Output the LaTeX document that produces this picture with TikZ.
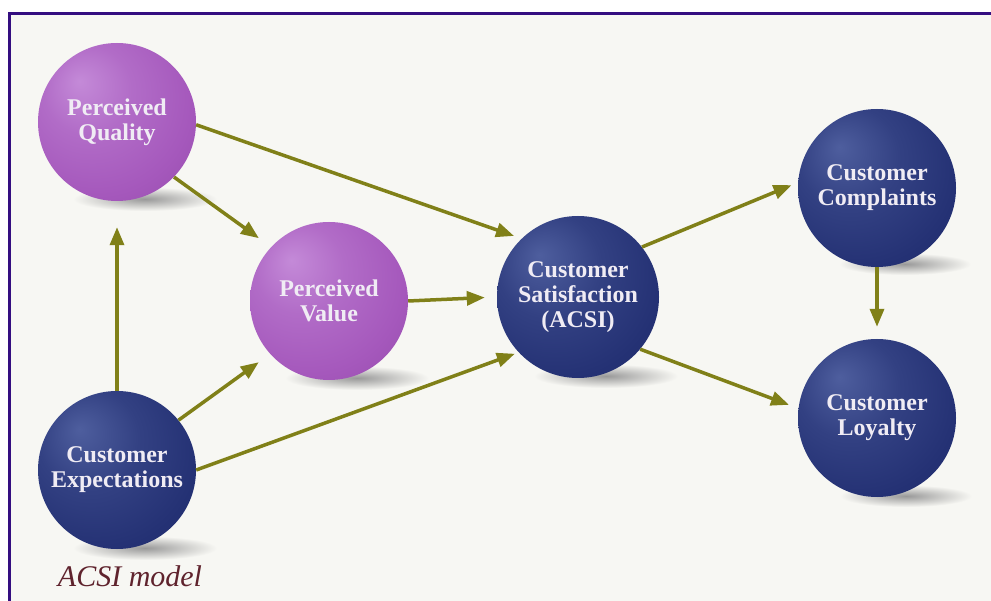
\documentclass[tikz,border=0pt]{standalone}
\usepackage{fontspec}
\setmainfont{Liberation Serif}
\usetikzlibrary{arrows.meta}
\definecolor{bg}{RGB}{247,247,243}
\definecolor{framec}{RGB}{52,14,128}
\definecolor{arrowc}{RGB}{128,128,24}
\definecolor{pHi}{RGB}{196,138,216}
\definecolor{pMid}{RGB}{165,88,188}
\definecolor{pLo}{RGB}{108,42,128}
\definecolor{nHi}{RGB}{78,94,158}
\definecolor{nMid}{RGB}{36,49,116}
\definecolor{nLo}{RGB}{14,20,60}
\definecolor{txt}{RGB}{240,236,244}
\definecolor{capc}{RGB}{95,35,45}
\pgfdeclareradialshading{purpleball}{\pgfpoint{-12bp}{13bp}}{color(0bp)=(pHi); color(14bp)=(pMid!60!pHi); color(30bp)=(pMid); color(44bp)=(pMid!70!pLo); color(54bp)=(pLo); color(64bp)=(pLo)}
\pgfdeclareradialshading{navyball}{\pgfpoint{-12bp}{13bp}}{color(0bp)=(nHi); color(16bp)=(nMid!65!nHi); color(32bp)=(nMid); color(46bp)=(nMid!70!nLo); color(56bp)=(nLo); color(64bp)=(nLo)}
\tikzset{
  ball/.style={circle, minimum size=158pt, inner sep=0pt, text=txt,
    font=\bfseries\fontsize{24}{25}\selectfont, align=center},
  pball/.style={ball, shading=purpleball},
  nball/.style={ball, shading=navyball},
  arr/.style={draw=arrowc, line width=3.5pt, -{Triangle[length=18pt,width=14pt]}},
  shadowe/.style={inner color=black!40, outer color=bg}
}
\begin{document}
\begin{tikzpicture}[x=1pt,y=-1pt]
\useasboundingbox (0,0) rectangle (991,601);
\fill[white] (0,0) rectangle (991,601);
\fill[bg] (9,13) rectangle (991,601);
\draw[framec, line width=3pt] (9.5,601) -- (9.5,13.5) -- (991,13.5);
% shadows
\shade[shadowe] (145,199) ellipse (72pt and 12pt);
\shade[shadowe] (357,378) ellipse (72pt and 12pt);
\shade[shadowe] (606,376) ellipse (72pt and 12pt);
\shade[shadowe] (905,264) ellipse (66pt and 11pt);
\shade[shadowe] (906,496) ellipse (66pt and 11pt);
\shade[shadowe] (145,548) ellipse (72pt and 12pt);
% balls
\node[pball] (pq) at (117,122) {Perceived\\Quality};
\node[pball] (pv) at (329,301) {Perceived\\Value};
\node[nball, minimum size=162pt] (cs) at (578,297) {Customer\\Satisfaction\\(ACSI)};
\node[nball] (cc) at (877,188) {Customer\\Complaints};
\node[nball] (cl) at (877,418) {Customer\\Loyalty};
\node[nball] (ce) at (117,470) {Customer\\Expectations};
% arrows
\draw[arr, shorten >=8pt] (pq.-2) -- (cs.134);
\draw[arr, shorten >=15pt] (pq.-44) -- (pv.137);
\draw[arr, shorten >=12pt] (pv.0) -- (cs.180);
\draw[arr, shorten >=26pt] (ce.90) -- (pq.-90);
\draw[arr, shorten >=14pt] (ce.39) -- (pv.222);
\draw[arr, shorten >=4pt] (ce.0) -- (cs.223);
\draw[arr, shorten >=7pt] (cs.38) -- (cc.176);
\draw[arr, shorten >=10pt] (cs.-40) -- (cl.173);
\draw[arr, shorten >=12pt] (cc.-90) -- (cl.90);
% caption
\node[text=capc, font=\itshape\fontsize{30}{32}\selectfont] (caption) at (130,576) {ACSI model};
\end{tikzpicture}
\end{document}
